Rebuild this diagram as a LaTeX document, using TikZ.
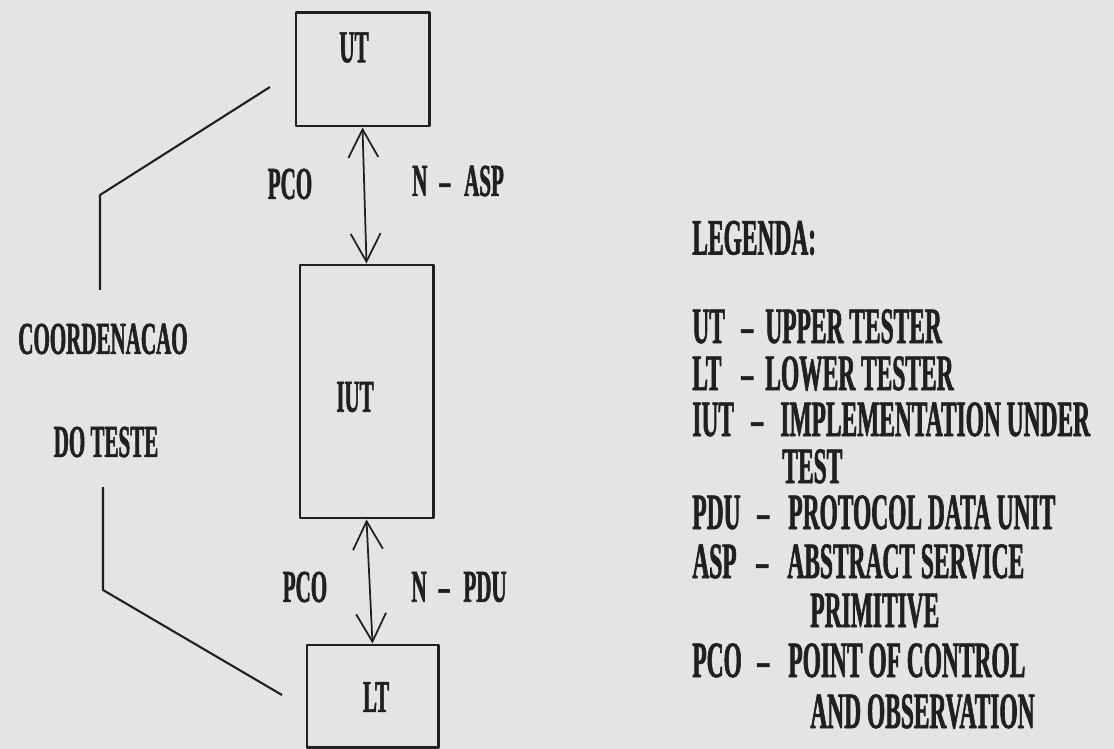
\documentclass[tikz,border=0pt]{standalone}
\usepackage{fontspec}
\usetikzlibrary{arrows.meta}
\newfontfamily\typfont{Liberation Serif Bold}[FakeStretch=0.46, FakeBold=1.2]
\newcommand\lblfont{\typfont\fontsize{26}{28}\selectfont}
\newcommand\legfont{\typfont\fontsize{29}{31}\selectfont}
\newcommand\pxu{0.02cm}
\definecolor{paper}{RGB}{228,228,226}
\definecolor{ink}{RGB}{32,32,32}

\begin{document}
\begin{tikzpicture}[x=0.02cm, y=-0.02cm, line join=round,
	every node/.style={font=\lblfont, text=ink, inner sep=0pt},
	box/.style={draw=ink, line width=1.7pt},
	link/.style={draw=ink, line width=1pt},
	tie/.style={draw=ink, line width=1.2pt},
	leg/.style={font=\legfont, anchor=base west},
	>={Straight Barb[length=16pt, width=17pt]}]
	\fill[paper] (0,0) rectangle (1114,749);
	% testers and implementation
	\node[box, minimum width=133*\pxu, minimum height=113*\pxu] (ut) at (362.5,69.5) {};
	\node[box, minimum width=133*\pxu, minimum height=253*\pxu] (iut) at (366.5,391.5) {};
	\node[box, minimum width=131*\pxu, minimum height=102*\pxu] (lt) at (372.5,696) {};
	\node (utl) at (354,47.5) {UT};
	\node (iutl) at (355,397) {IUT};
	\node (ltl) at (376,697) {LT};
	\draw[link, <->] (ut.south) -- (iut.north);
	\draw[link, <->] (iut.south) -- (lt.north);
	\node (pcoa) at (290,184) {PCO};
	\node (nasp) at (458,181) {N\hspace{7pt}–\hspace{8pt}ASP};
	\node (pcob) at (305,587) {PCO};
	\node (npdu) at (459,587) {N\hspace{7pt}–\hspace{8pt}PDU};
	% test coordination
	\node (coo) at (103,339) {COORDENACAO};
	\node (dot) at (106,442) {DO TESTE};
	\coordinate (cut) at (270,87);
	\coordinate (clt) at (282,695);
	\draw[tie] (cut) -- ++(-170,108) -- ++(0,95);
	\draw[tie] (clt) -- ++(-179,-105) -- ++(0,-103);
	% legend (base lines: row centre + 17)
	\node[leg] (leg) at (692,254.5) {LEGENDA:};
	\foreach \k/\dx/\tx/\ty/\txt in {UT/741/765/326/UPPER TESTER, LT/741/765/373/LOWER TESTER,
		IUT/751/780/419/IMPLEMENTATION UNDER, PDU/757/788/512/PROTOCOL DATA UNIT,
		ASP/756/787/561/ABSTRACT SERVICE, PCO/757/788/660/POINT OF CONTROL}{
		\node[leg] (k\k) at (692,\ty+17) {\k};
		\node[leg] (s\k) at (\dx,\ty+17) {–};
		\node[leg] (d\k) at (\tx,\ty+17) {\txt};
	}
	\node[leg] (cIUT) at (782,483) {TEST};
	\node[leg] (cASP) at (810,627) {PRIMITIVE};
	\node[leg] (cPCO) at (810,728) {AND OBSERVATION};
\end{tikzpicture}
\end{document}
